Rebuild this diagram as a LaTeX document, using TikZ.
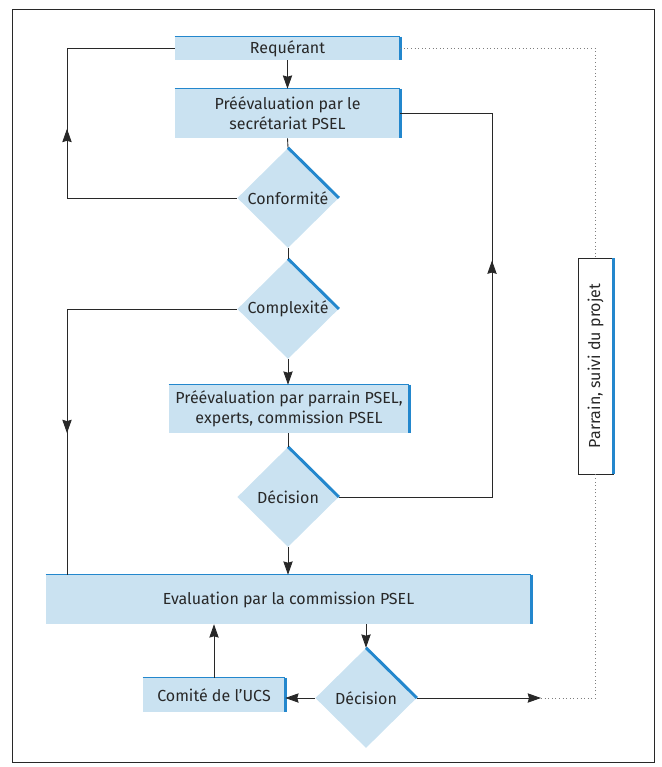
\documentclass[tikz,border=0pt]{standalone}
\usepackage{xcolor}
\usepackage{fontspec}
\setmainfont{Fira Sans}
\usetikzlibrary{shapes.geometric,arrows.meta,decorations.markings}
\definecolor{boxfill}{RGB}{202,226,241}
\definecolor{edgeblue}{RGB}{35,135,205}
\definecolor{linegray}{RGB}{40,40,40}

\begin{document}
\begin{tikzpicture}[x=0.75pt,y=0.75pt,yscale=-1,xscale=1,
  font=\fontsize{12}{15}\selectfont,text=linegray,
  box/.style={fill=boxfill,inner sep=0pt,align=center},
  rhomb/.style={diamond,fill=boxfill,inner sep=0pt,minimum width=76pt,minimum height=75pt},
  topedge/.style={draw=edgeblue,line width=1.1pt},
  sideedge/.style={draw=edgeblue,line width=2.2pt},
  conn/.style={draw=linegray,line width=0.65pt},
  arr/.style={conn,-{Stealth[length=10pt,width=7pt,inset=1pt]}},
  dots/.style={draw=linegray!60,line width=0.7pt,dotted},
  midarrow/.style={postaction={decorate,decoration={markings,
    mark=at position #1 with {\arrow{Stealth[length=10pt,width=7pt,inset=1pt]}}}}}]
\useasboundingbox (0,0) rectangle (661,767);

%Shape: Frame
\draw [linegray,line width=0.7pt] (12,9) rectangle (654,762);

%Shape: Rectangle
\node [box,minimum width=168.75pt,minimum height=17.25pt] (req) at (287.5,48.5) {Requérant};
%Shape: Rectangle
\node [box,minimum width=168.75pt,minimum height=36.75pt] (presec) at (287.5,113.5) {Préévaluation par le\\secrétariat PSEL};
%Shape: Diamond
\node [rhomb] (conf) at (288,198) {Conformité};
%Shape: Diamond
\node [rhomb] (compl) at (288,309) {Complexité};
%Shape: Rectangle
\node [box,minimum width=180pt,minimum height=36pt] (preparr) at (289,409) {Préévaluation par parrain PSEL,\\experts, commission PSEL};
%Shape: Diamond
\node [rhomb] (dec) at (288,497) {Décision};
%Shape: Rectangle
\node [box,minimum width=363.75pt,minimum height=36.75pt] (evalc) at (288.5,599.5) {Evaluation par la commission PSEL};
%Shape: Diamond
\node [rhomb] (decf) at (366,698) {Décision};
%Shape: Rectangle
\node [box,minimum width=106.5pt,minimum height=25.5pt] (ucs) at (214,695) {Comité de l'UCS};
%Shape: Rectangle
\node [draw=linegray,fill=white,inner sep=0pt,minimum width=162pt,minimum height=26.25pt,rotate=90] (parr) at (595.5,366) {Parrain, suivi du projet};

%Blue edges
\draw [topedge] (req.north west) -- (req.north east);
\draw [sideedge] (req.north east) -- (req.south east);
\draw [topedge] (presec.north west) -- (presec.north east);
\draw [sideedge] (presec.north east) -- (presec.south east);
\draw [topedge] (preparr.north west) -- (preparr.north east);
\draw [sideedge] (preparr.north east) -- (preparr.south east);
\draw [topedge] (evalc.north west) -- (evalc.north east);
\draw [sideedge] (evalc.north east) -- (evalc.south east);
\draw [topedge] (ucs.north west) -- (ucs.north east);
\draw [sideedge] (ucs.north east) -- (ucs.south east);
\draw [sideedge] (parr.south west) -- (parr.south east);
\draw [sideedge] (conf.north) -- (conf.east);
\draw [sideedge] (compl.north) -- (compl.east);
\draw [sideedge] (dec.north) -- (dec.east);
\draw [sideedge] (decf.north) -- (decf.east);

%Loop coordinates
\coordinate (lx) at (67,0);
\coordinate (rx) at (492,0);
\coordinate (out) at (541,698);

%Straight Lines
\draw [arr] (req.south) -- (presec.north);
\draw [conn] (presec.south) -- (conf.north);
\draw [conn] (conf.south) -- (compl.north);
\draw [arr] (compl.south) -- (compl.south |- preparr.north);
\draw [conn] (dec.north |- preparr.south) -- (dec.north);
\draw [arr] (dec.south) -- (dec.south |- evalc.north);
\draw [arr] (decf.north |- evalc.south) -- (decf.north);
\draw [arr] (decf.west) -- (decf.west -| ucs.east);
\draw [arr] (ucs.north) -- (ucs.north |- evalc.south);
\draw [arr] (decf.east) -- (out);
%Loops
\draw [conn,midarrow=0.56] (conf.west) -- (conf.west -| lx) |- (req.west);
\draw [conn,midarrow=0.675] (compl.west) -- (compl.west -| lx) -- (evalc.north -| lx);
\draw [conn,midarrow=0.62] (dec.east) -- (dec.east -| rx) |- (presec.east);
%Dotted Lines
\draw [dots] (req.east) -| (parr.east);
\draw [dots] (out) -| (parr.west);

\end{tikzpicture}
\end{document}
